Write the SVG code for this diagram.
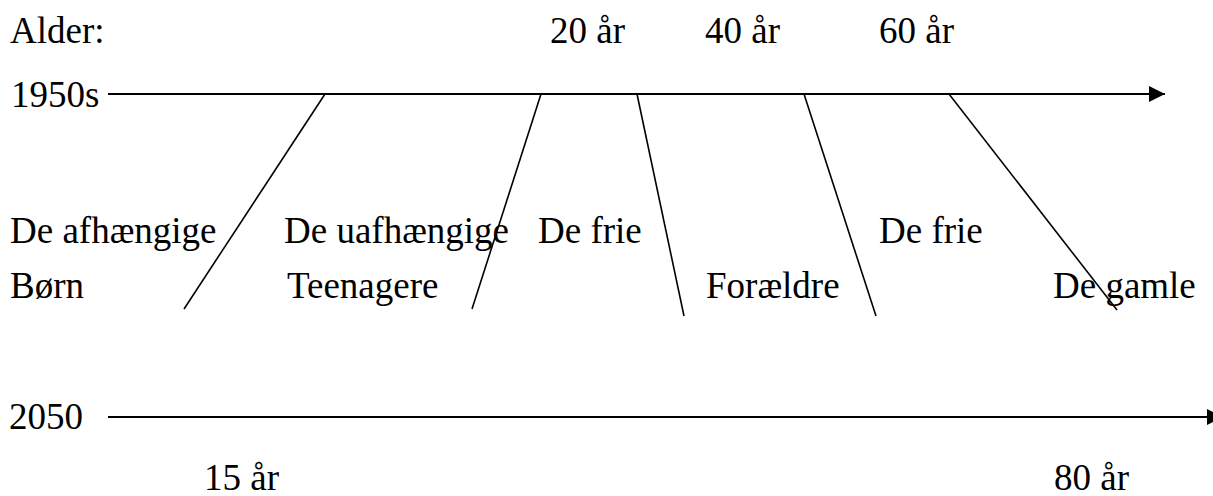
<svg xmlns="http://www.w3.org/2000/svg" width="1213" height="496" viewBox="0 0 1213 496">
<style>
text{font-family:"Liberation Serif","Times New Roman",serif;font-size:37px;fill:#000}
.axis{stroke:#000;stroke-width:2.2;fill:none}
.div{stroke:#000;stroke-width:1.6;fill:none}
</style>
<defs>
<marker id="arr" viewBox="0 0 16 16" refX="16" refY="8" markerWidth="16" markerHeight="16" markerUnits="userSpaceOnUse" orient="auto">
<path d="M0,0 L16,8 L0,16 Z" fill="#000"/>
</marker>
</defs>
<rect width="1213" height="496" fill="#fff"/>
<g id="connectors">
<line class="axis" x1="108" y1="94" x2="1165" y2="94" marker-end="url(#arr)"/>
<line class="axis" x1="108" y1="417" x2="1223" y2="417" marker-end="url(#arr)"/>
<line class="div" x1="325" y1="94" x2="184" y2="309"/>
<line class="div" x1="541" y1="94" x2="472" y2="309"/>
<line class="div" x1="637" y1="94" x2="684" y2="316"/>
<line class="div" x1="804" y1="94" x2="876" y2="316"/>
<line class="div" x1="949" y1="94" x2="1117" y2="310"/>
</g>
<g id="alder"><text x="10" y="43">Alder:</text></g>
<g id="age20"><text x="550" y="43">20 år</text></g>
<g id="age40"><text x="705" y="43">40 år</text></g>
<g id="age60"><text x="879" y="43">60 år</text></g>
<g id="y1950"><text x="11" y="107">1950s</text></g>
<g id="afhaengige"><text x="10" y="243">De afhængige</text></g>
<g id="uafhaengige"><text x="284" y="243">De uafhængige</text></g>
<g id="frie1"><text x="538" y="243">De frie</text></g>
<g id="frie2"><text x="879" y="243">De frie</text></g>
<g id="born"><text x="10" y="298">Børn</text></g>
<g id="teenagere"><text x="287" y="298">Teenagere</text></g>
<g id="foraeldre"><text x="706" y="298">Forældre</text></g>
<g id="gamle"><text x="1053" y="298">De gamle</text></g>
<g id="y2050"><text x="9" y="429">2050</text></g>
<g id="age15"><text x="204" y="490">15 år</text></g>
<g id="age80"><text x="1054" y="490">80 år</text></g>
</svg>
